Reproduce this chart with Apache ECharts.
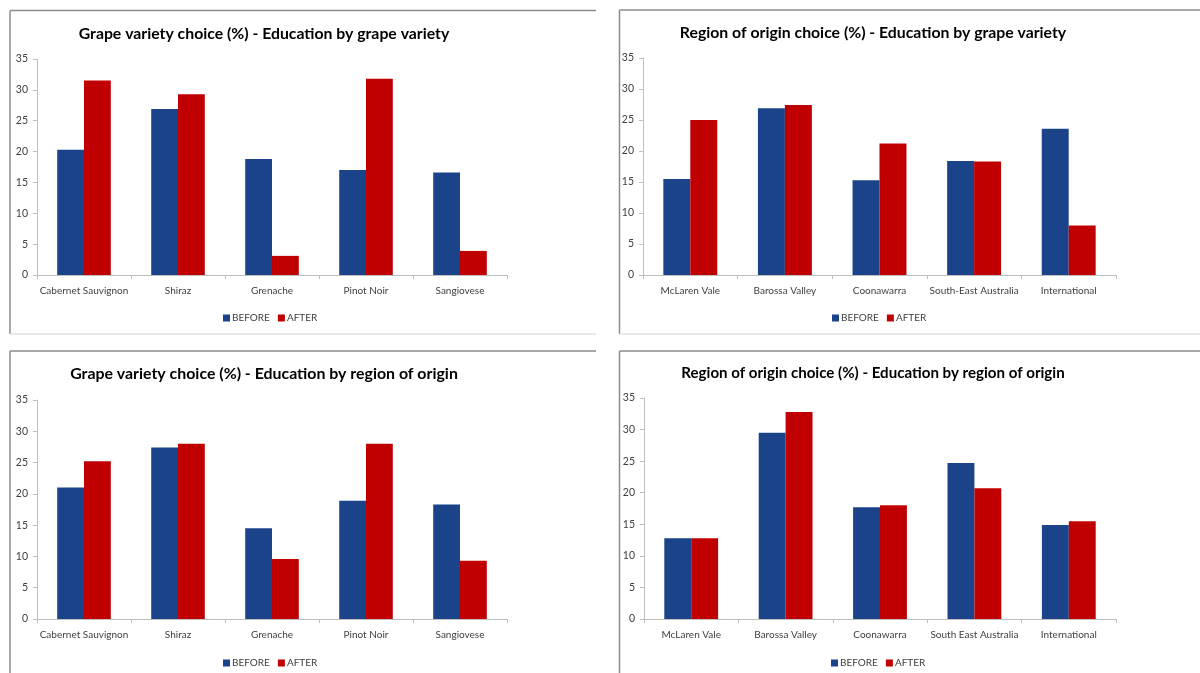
<!DOCTYPE html>
<html>
<head>
<meta charset="utf-8">
<script src="https://cdn.jsdelivr.net/npm/echarts@6/dist/echarts.min.js"></script>
<style>
  html, body { margin: 0; padding: 0; background: #ffffff; }
  #chart { width: 1200px; height: 673px; }
</style>
</head>
<body>
<div id="chart"></div>
<script>
// Categories
const grapeCategories = ['Cabernet Sauvignon', 'Shiraz', 'Grenache', 'Pinot Noir', 'Sangiovese'];
const regionCategoriesA = ['McLaren Vale', 'Barossa Valley', 'Coonawarra', 'South-East Australia', 'International'];
const regionCategoriesB = ['McLaren Vale', 'Barossa Valley', 'Coonawarra', 'South East Australia', 'International'];

// Series names
const seriesNames = ['BEFORE', 'AFTER'];

// Grape variety choice (%) - Education by grape variety
const grapeByGrapeBefore = [20.3, 26.9, 18.8, 17.0, 16.6];
const grapeByGrapeAfter  = [31.5, 29.3, 3.1, 31.8, 3.9];

// Region of origin choice (%) - Education by grape variety
const regionByGrapeBefore = [15.5, 26.9, 15.3, 18.4, 23.6];
const regionByGrapeAfter  = [25.0, 27.4, 21.2, 18.3, 8.0];

// Grape variety choice (%) - Education by region of origin
const grapeByRegionBefore = [21.0, 27.4, 14.5, 18.9, 18.3];
const grapeByRegionAfter  = [25.2, 28.0, 9.6, 28.0, 9.3];

// Region of origin choice (%) - Education by region of origin
const regionByRegionBefore = [12.8, 29.5, 17.7, 24.7, 14.9];
const regionByRegionAfter  = [12.8, 32.8, 18.0, 20.7, 15.5];

// Value axis range
const yMin = 0, yMax = 35, yStep = 5;

const titles = [
  'Grape variety choice (%) - Education by grape variety',
  'Region of origin choice (%) - Education by grape variety',
  'Grape variety choice (%) - Education by region of origin',
  'Region of origin choice (%) - Education by region of origin'
];

const panels = [
  { cats: grapeCategories,   before: grapeByGrapeBefore,   after: grapeByGrapeAfter },
  { cats: regionCategoriesA, before: regionByGrapeBefore,  after: regionByGrapeAfter },
  { cats: grapeCategories,   before: grapeByRegionBefore,  after: grapeByRegionAfter },
  { cats: regionCategoriesB, before: regionByRegionBefore, after: regionByRegionAfter }
];

const FONT = 'Lato, "Open Sans", sans-serif';
const BLUE = '#1B438A';
const RED = '#C00000';
const AXIS_GREY = '#BFBFBF';
const TEXT_GREY = '#404040';

// Layout of the four panels
const grids = [
  { left: 37,  top: 59,  width: 470, height: 216 },
  { left: 643, top: 58,  width: 473, height: 217 },
  { left: 37,  top: 400, width: 470, height: 219 },
  { left: 644, top: 398, width: 472, height: 221 }
];
const titlePos = [
  { x: 259, y: 35, size: 15.8 },
  { x: 868, y: 34, size: 15.8 },
  { x: 259, y: 375, size: 15.9 },
  { x: 868, y: 374, size: 15.1 }
];
const legendPos = [
  { x: 223, y: 319 },
  { x: 832, y: 319 },
  { x: 223, y: 664 },
  { x: 831, y: 664 }
];

const option = {
  backgroundColor: '#ffffff',
  animation: false,
  title: titles.map((t, i) => ({
    text: t,
    left: titlePos[i].x,
    top: titlePos[i].y - titlePos[i].size / 2 - 6,
    textAlign: 'center',
    textStyle: { fontFamily: FONT, fontWeight: 'bold', fontSize: titlePos[i].size, color: '#000000' }
  })),
  legend: panels.map((p, i) => ({
    data: seriesNames,
    left: legendPos[i].x - 5,
    top: legendPos[i].y - 11,
    orient: 'horizontal',
    align: 'left',
    itemWidth: 7,
    itemHeight: 7,
    itemGap: 8,
    icon: 'rect',
    textStyle: { fontFamily: FONT, fontSize: 10, color: TEXT_GREY, padding: [0, 0, 0, -3] },
    selectedMode: false
  })),
  grid: grids.map(g => ({ left: g.left, top: g.top, width: g.width, height: g.height, containLabel: false })),
  xAxis: panels.map((p, i) => ({
    type: 'category',
    gridIndex: i,
    data: p.cats,
    axisLine: { lineStyle: { color: AXIS_GREY, width: 1 } },
    axisTick: { show: true, length: 4, lineStyle: { color: AXIS_GREY } },
    axisLabel: { interval: 0, fontFamily: FONT, fontSize: 10, color: TEXT_GREY, margin: 11 },
    splitLine: { show: false }
  })),
  yAxis: panels.map((p, i) => ({
    type: 'value',
    gridIndex: i,
    min: yMin,
    max: yMax,
    interval: yStep,
    axisLine: { show: true, lineStyle: { color: AXIS_GREY, width: 1 } },
    axisTick: { show: true, length: 4, lineStyle: { color: AXIS_GREY } },
    axisLabel: { fontFamily: FONT, fontSize: 10.5, color: TEXT_GREY, margin: 9 },
    splitLine: { show: false }
  })),
  series: []
};

panels.forEach((p, i) => {
  option.series.push({
    name: seriesNames[0],
    type: 'bar',
    xAxisIndex: i,
    yAxisIndex: i,
    data: p.before,
    barGap: '0%',
    barCategoryGap: '43%',
    itemStyle: { color: BLUE }
  });
  option.series.push({
    name: seriesNames[1],
    type: 'bar',
    xAxisIndex: i,
    yAxisIndex: i,
    data: p.after,
    barGap: '0%',
    barCategoryGap: '43%',
    itemStyle: { color: RED }
  });
});

// Panel frames: darker top/left edges, faint bottom edge
const DARK = '#8C8C8C';
const LIGHT = '#E3E3E3';
const frames = [
  { x1: 10,  x2: 596,  y1: 10.5, y2: 334 },
  { x1: 619.5, x2: 1200, y1: 10, y2: 334 },
  { x1: 10,  x2: 596,  y1: 351, y2: 700 },
  { x1: 619.5, x2: 1200, y1: 351, y2: 700 }
];
const graphics = [];
frames.forEach(f => {
  graphics.push({ type: 'line', shape: { x1: f.x1, y1: f.y1, x2: f.x2, y2: f.y1 }, style: { stroke: DARK, lineWidth: 1.5 }, silent: true });
  graphics.push({ type: 'line', shape: { x1: f.x1, y1: f.y1, x2: f.x1, y2: f.y2 }, style: { stroke: DARK, lineWidth: 1.5 }, silent: true });
  graphics.push({ type: 'line', shape: { x1: f.x1, y1: f.y2, x2: f.x2, y2: f.y2 }, style: { stroke: LIGHT, lineWidth: 1.5 }, silent: true });
});
option.graphic = graphics;

const chart = echarts.init(document.getElementById('chart'), null, { renderer: 'canvas' });
chart.setOption(option);
</script>
</body>
</html>
